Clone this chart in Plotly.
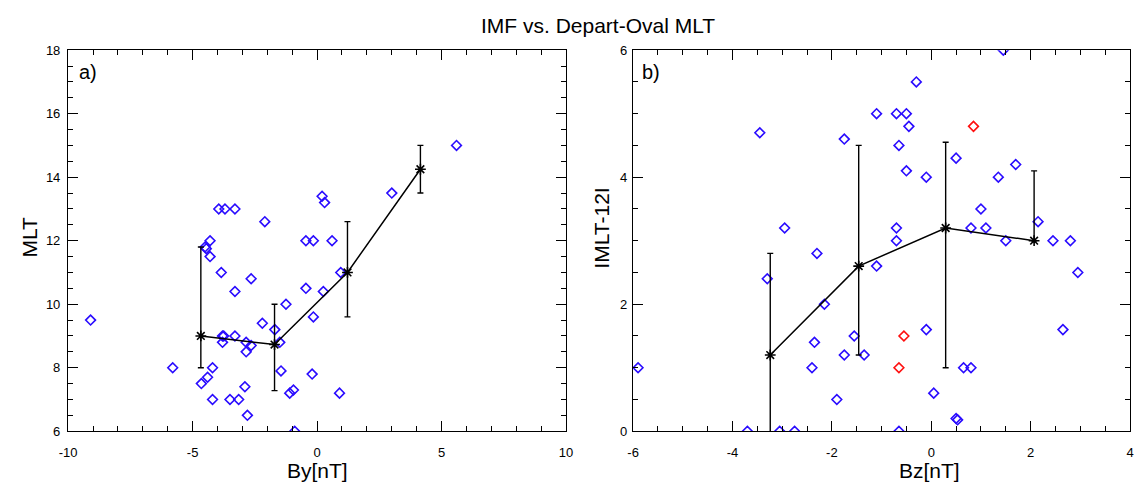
import plotly.graph_objects as go

# ---- panel a): By vs MLT ----
by_vals = [-9.1, -5.8, -4.65, -4.5, -4.45, -4.4, -4.3, -4.3, -4.2, -4.2,
           -3.95, -3.85, -3.8, -3.75, -3.8, -3.7, -3.5, -3.3, -3.3, -3.3,
           -3.15, -2.9, -2.85, -2.85, -2.8, -2.65, -2.65, -2.2, -2.1, -1.7,
           -1.5, -1.45, -1.25, -1.1, -0.95, -0.9, -0.45, -0.45, -0.2, -0.15,
           -0.15, 0.2, 0.25, 0.3, 0.6, 0.9, 0.95, 3.0, 5.6]
mlt_vals = [9.5, 8.0, 7.5, 11.8, 11.75, 7.7, 12.0, 11.5, 8.0, 7.0,
            13.0, 11.0, 9.0, 9.0, 8.8, 13.0, 7.0, 9.0, 13.0, 10.4,
            7.0, 7.4, 8.8, 8.5, 6.5, 8.7, 10.8, 9.4, 12.6, 9.2,
            8.8, 7.9, 10.0, 7.2, 7.3, 6.0, 10.5, 12.0, 7.8, 12.0,
            9.6, 13.4, 10.4, 13.2, 12.0, 7.2, 11.0, 13.5, 15.0]

by_bin = [-4.67, -1.71, 1.22, 4.15]
mlt_bin = [9.0, 8.73, 11.0, 14.25]
mlt_bin_hi = [11.8, 10.0, 12.6, 15.0]
mlt_bin_lo = [8.0, 7.28, 9.6, 13.5]

by_ticks = [-10, -5, 0, 5, 10]
by_ticktext = ["-10", "-5", "0", "5", "10"]
mlt_ticks = [6, 8, 10, 12, 14, 16, 18]

# ---- panel b): Bz vs |MLT-12| ----
bz_vals = [-5.9, -3.7, -3.45, -3.3, -3.05, -2.95, -2.75, -2.4, -2.35, -2.3,
           -2.15, -1.9, -1.75, -1.75, -1.55, -1.35, -1.1, -1.1, -0.7, -0.7,
           -0.7, -0.65, -0.65, -0.5, -0.5, -0.45, -0.3, -0.1, -0.1, 0.05,
           0.5, 0.5, 0.53, 0.65, 0.8, 0.8, 1.0, 1.1, 1.35, 1.45,
           1.5, 1.7, 2.15, 2.45, 2.65, 2.8, 2.95]
dmlt_vals = [1.0, 0.0, 4.7, 2.4, 0.0, 3.2, 0.0, 1.0, 1.4, 2.8,
             2.0, 0.5, 4.6, 1.2, 1.5, 1.2, 5.0, 2.6, 5.0, 3.2,
             3.0, 4.5, 0.0, 5.0, 4.1, 4.8, 5.5, 4.0, 1.6, 0.6,
             4.3, 0.2, 0.18, 1.0, 1.0, 3.2, 3.5, 3.2, 4.0, 6.0,
             3.0, 4.2, 3.3, 3.0, 1.6, 3.0, 2.5]

bz_red = [0.85, -0.55, -0.65]
dmlt_red = [4.8, 1.5, 1.0]

bz_bin = [-3.24, -1.46, 0.29, 2.07]
dmlt_bin = [1.2, 2.6, 3.2, 3.0]
dmlt_bin_hi = [2.8, 4.5, 4.55, 4.1]
dmlt_bin_lo = [-0.4, 1.2, 1.0, 3.0]

bz_ticks = [-6, -4, -2, 0, 2, 4]
bz_ticktext = ["-6", "-4", "-2", "0", "2", "4"]
dmlt_ticks = [0, 2, 4, 6]

BLUE = "#2a0cff"
RED = "#ff1010"
FONT = "Liberation Sans, Arial, Helvetica, sans-serif"


def diamonds(x, y, color, xa, ya):
    return go.Scatter(x=x, y=y, mode="markers", xaxis=xa, yaxis=ya,
                      marker=dict(symbol="diamond-open", size=7.5, color=color,
                                  line=dict(width=1.6, color=color)),
                      showlegend=False, hoverinfo="x+y")


def binned(x, y, hi, lo, xa, ya):
    plus = [h - v for h, v in zip(hi, y)]
    minus = [v - l for v, l in zip(y, lo)]
    return go.Scatter(x=x, y=y, mode="lines+markers", xaxis=xa, yaxis=ya,
                      line=dict(color="black", width=1.5),
                      marker=dict(symbol="asterisk-open", size=9,
                                  line=dict(width=1.6, color="black"),
                                  color="black"),
                      error_y=dict(type="data", symmetric=False, array=plus,
                                   arrayminus=minus, color="black",
                                   thickness=1.4, width=3),
                      showlegend=False)


fig = go.Figure()
fig.add_trace(diamonds(by_vals, mlt_vals, BLUE, "x", "y"))
fig.add_trace(binned(by_bin, mlt_bin, mlt_bin_hi, mlt_bin_lo, "x", "y"))
fig.add_trace(diamonds(bz_vals, dmlt_vals, BLUE, "x2", "y2"))
fig.add_trace(diamonds(bz_red, dmlt_red, RED, "x2", "y2"))
fig.add_trace(binned(bz_bin, dmlt_bin, dmlt_bin_hi, dmlt_bin_lo, "x2", "y2"))

W, H = 1138, 495


def axis(rng, tickvals, ticktext, minor_dtick, domain, anchor, standoff):
    return dict(range=rng, tickmode="array", tickvals=tickvals,
                ticktext=ticktext, domain=domain, anchor=anchor,
                ticks="inside", ticklen=10, tickwidth=1.3, tickcolor="black",
                showline=True, linecolor="black", linewidth=1.4,
                mirror="allticks", showgrid=False, zeroline=False,
                minor=dict(dtick=minor_dtick, tick0=0, ticks="inside",
                           ticklen=5, tickwidth=1.3, tickcolor="black",
                           showgrid=False),
                ticklabelstandoff=standoff,
                tickfont=dict(size=13, color="black", family=FONT),
                fixedrange=True)


ydom = [1 - 437.5 / H, 1 - 44.5 / H]
fig.update_layout(
    width=W, height=H,
    margin=dict(l=0, r=0, t=0, b=0),
    paper_bgcolor="white", plot_bgcolor="white",
    font=dict(family=FONT, color="black"),
    xaxis=axis([-10, 10], by_ticks, by_ticktext, 1,
               [60 / W, 565 / W], "y", 9),
    yaxis=axis([6, 18], mlt_ticks, [str(v) for v in mlt_ticks], 0.5,
               ydom, "x", 4),
    xaxis2=axis([-6, 4], bz_ticks, bz_ticktext, 0.5,
                [633 / W, 1137 / W], "y2", 9),
    yaxis2=axis([0, 6], dmlt_ticks, [str(v) for v in dmlt_ticks], 0.5,
                ydom, "x2", 2),
)

annos = [
    dict(text="IMF vs. Depart-Oval MLT", x=597 / W, y=1 - 19 / H,
         font=dict(size=21)),
    dict(text="By[nT]", x=313 / W, y=1 - 478 / H, font=dict(size=21)),
    dict(text="Bz[nT]", x=934 / W, y=1 - 478 / H, font=dict(size=21)),
    dict(text="MLT", x=21 / W, y=1 - 237 / H, font=dict(size=21),
         textangle=-90),
    dict(text="IMLT-12I", x=601 / W, y=1 - 228 / H, font=dict(size=21),
         textangle=-90),
    dict(text="a)", x=80 / W, y=1 - 67 / H, font=dict(size=20)),
    dict(text="b)", x=651 / W, y=1 - 67 / H, font=dict(size=20)),
]
for a in annos:
    a.update(xref="paper", yref="paper", showarrow=False,
             xanchor="center", yanchor="middle")
    a["font"].update(family=FONT, color="black")
fig.update_layout(annotations=annos)

fig.write_html("out.html")
